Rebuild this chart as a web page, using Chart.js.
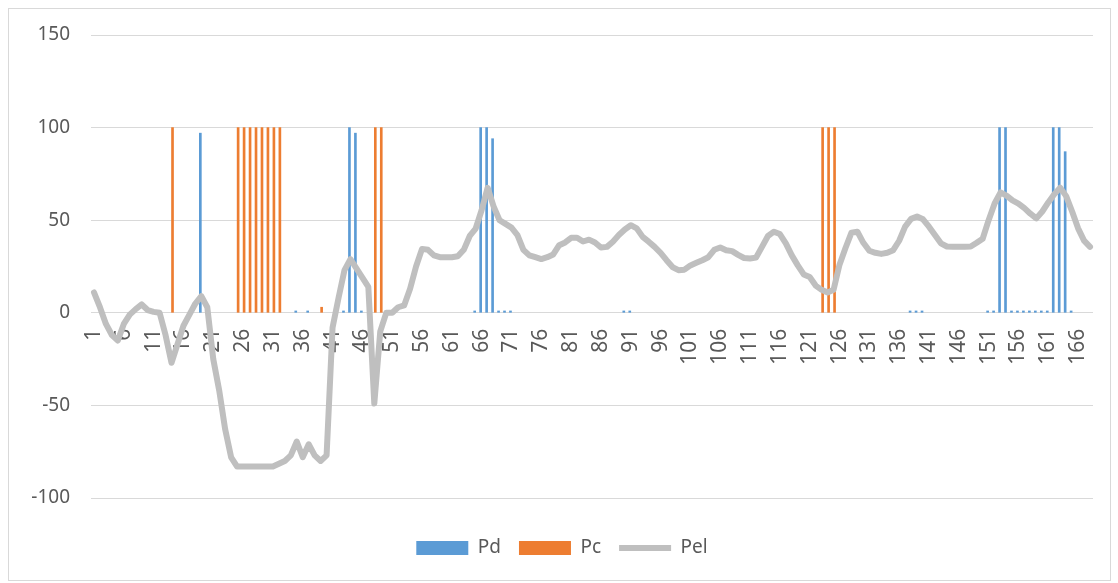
<!DOCTYPE html>
<html>
<head>
<meta charset="utf-8">
<script src="https://cdn.jsdelivr.net/npm/chart.js@4/dist/chart.umd.min.js"></script>
<style>
  html, body { margin: 0; padding: 0; background: #fff; }
  #wrap { position: relative; width: 1118px; height: 583px; }
  #frame {
    position: absolute; left: 8px; top: 8px; width: 1101px; height: 571px;
    border: 1px solid #d9d9d9; pointer-events: none;
  }
  canvas { position: absolute; left: 0; top: 0; }
</style>
</head>
<body>
<div id="wrap">
  <canvas id="myChart" width="1118" height="583"></canvas>
  <div id="frame"></div>
</div>
<script>
// categories 1..168
const categories = Array.from({ length: 168 }, (_, i) => String(i + 1));

// Pd bars: category number -> value
const pdCats = [19, 35, 37, 43, 44, 45, 46, 65, 66, 67, 68, 69, 70, 71, 90, 91,
  138, 139, 140, 151, 152, 153, 154, 155, 156, 157, 158, 159, 160, 161, 162, 163, 164, 165];
const pdVals = [97, 1, 1, 1, 100, 97, 1, 1, 100, 100, 94, 1, 1, 1, 1, 1,
  1, 1, 1, 1, 1, 100, 100, 1, 1, 1, 1, 1, 1, 1, 100, 100, 87, 1];

// Pc bars
const pcCats = [14, 25, 26, 27, 28, 29, 30, 31, 32, 39, 48, 49, 123, 124, 125];
const pcVals = [100, 100, 100, 100, 100, 100, 100, 100, 100, 3, 100, 100, 100, 100, 100];

// Pel line, one value per category
const pelVals = [
  11, 3, -6, -12, -15, -6, -1, 2, 4.5, 1.5,
  0.5, 0, -12, -27, -17, -7, -1, 5, 9, 3,
  -25, -42, -63, -78, -83, -83, -83, -83, -83, -83,
  -83, -81.5, -80, -77, -69.5, -78, -71, -77, -80, -77,
  -8, 8, 23, 29, 24, 19, 14, -49, -10, 0,
  0, 3, 4, 13, 25, 34.5, 34, 31, 30, 30,
  30, 30.5, 34, 41.5, 45.5, 55.5, 67.5, 57.5, 50, 48,
  46, 42, 34, 31, 30, 29, 30, 31.5, 36.5, 38,
  40.5, 40.5, 38.5, 39.5, 38, 35.3, 35.6, 38.4, 42, 45,
  47.3, 45.6, 41, 38.4, 35.6, 32.4, 28.4, 24.7, 23, 23.3,
  25.6, 27, 28.4, 30, 34, 35.3, 33.8, 33.3, 31.3, 29.6,
  29.3, 29.8, 35.6, 41.5, 43.8, 42.5, 37.5, 31, 25.6, 20.7,
  19.3, 14.7, 12.4, 11, 12.4, 26, 35, 43.3, 43.8, 37.8,
  33.5, 32.4, 31.8, 32.4, 33.8, 38.9, 46.5, 50.7, 52, 50.5,
  46.5, 42, 37.5, 35.8, 35.6, 35.6, 35.6, 35.8, 37.8, 40,
  50, 59, 65, 63.3, 60.7, 59, 56.5, 53.5, 51, 54.7,
  59.6, 64, 67.5, 63, 54.7, 45.6, 39, 35.6
];

const yTicks = [-100, -50, 0, 50, 100, 150];

function spread(cats, vals) {
  const out = categories.map(() => null);
  cats.forEach((c, i) => { out[c - 1] = vals[i]; });
  return out;
}

const FONT = "'Noto Sans', sans-serif";
const TEXT = "#595959";

const ctx = document.getElementById("myChart").getContext("2d");

new Chart(ctx, {
  type: "bar",
  data: {
    labels: categories,
    datasets: [
      {
        label: "Pd",
        data: spread(pdCats, pdVals),
        backgroundColor: "#5B9BD5",
        barThickness: 2,
        pointStyle: "rect",
        order: 1,
      },
      {
        label: "Pc",
        data: spread(pcCats, pcVals),
        backgroundColor: "#ED7D31",
        barThickness: 2,
        pointStyle: "rect",
        order: 1,
      },
      {
        type: "line",
        label: "Pel",
        data: pelVals,
        borderColor: "#BFBFBF",
        backgroundColor: "#BFBFBF",
        borderWidth: 6,
        borderJoinStyle: "round",
        borderCapStyle: "round",
        tension: 0,
        pointRadius: 0,
        pointStyle: "line",
        order: 0,
      },
    ],
  },
  options: {
    responsive: false,
    animation: false,
    devicePixelRatio: 1,
    layout: { padding: { left: 31, right: 25, top: 35, bottom: 15.5 } },
    plugins: {
      tooltip: { enabled: false },
      legend: {
        position: "bottom",
        title: { display: true, text: " ", font: { size: 10 }, padding: { top: 10.5, bottom: 0 } },
        labels: {
          usePointStyle: true,
          pointStyleWidth: 52,
          boxHeight: 14,
          padding: 18,
          color: TEXT,
          font: { family: FONT, size: 19 },
          sort: (a, b) => a.datasetIndex - b.datasetIndex,
        },
      },
    },
    scales: {
      x: {
        position: { y: 0 },
        afterFit: (scale) => { scale.paddingLeft = 0; scale.paddingRight = 0; },
        grid: { display: false },
        border: { display: false },
        ticks: {
          autoSkip: false,
          minRotation: 90,
          maxRotation: 90,
          padding: 8,
          color: TEXT,
          font: { family: FONT, size: 21 },
          callback: (v, i) => (i % 5 === 0 ? categories[i] : ""),
        },
      },
      y: {
        min: -100,
        max: 150,
        afterFit: (scale) => { scale.width = 60; },
        afterBuildTicks: (scale) => { scale.ticks = yTicks.map((v) => ({ value: v })); },
        grid: { color: "#d9d9d9", lineWidth: 1, drawTicks: false },
        border: { display: false },
        ticks: {
          padding: 21,
          color: TEXT,
          font: { family: FONT, size: 19 },
        },
      },
    },
  },
});
</script>
</body>
</html>
